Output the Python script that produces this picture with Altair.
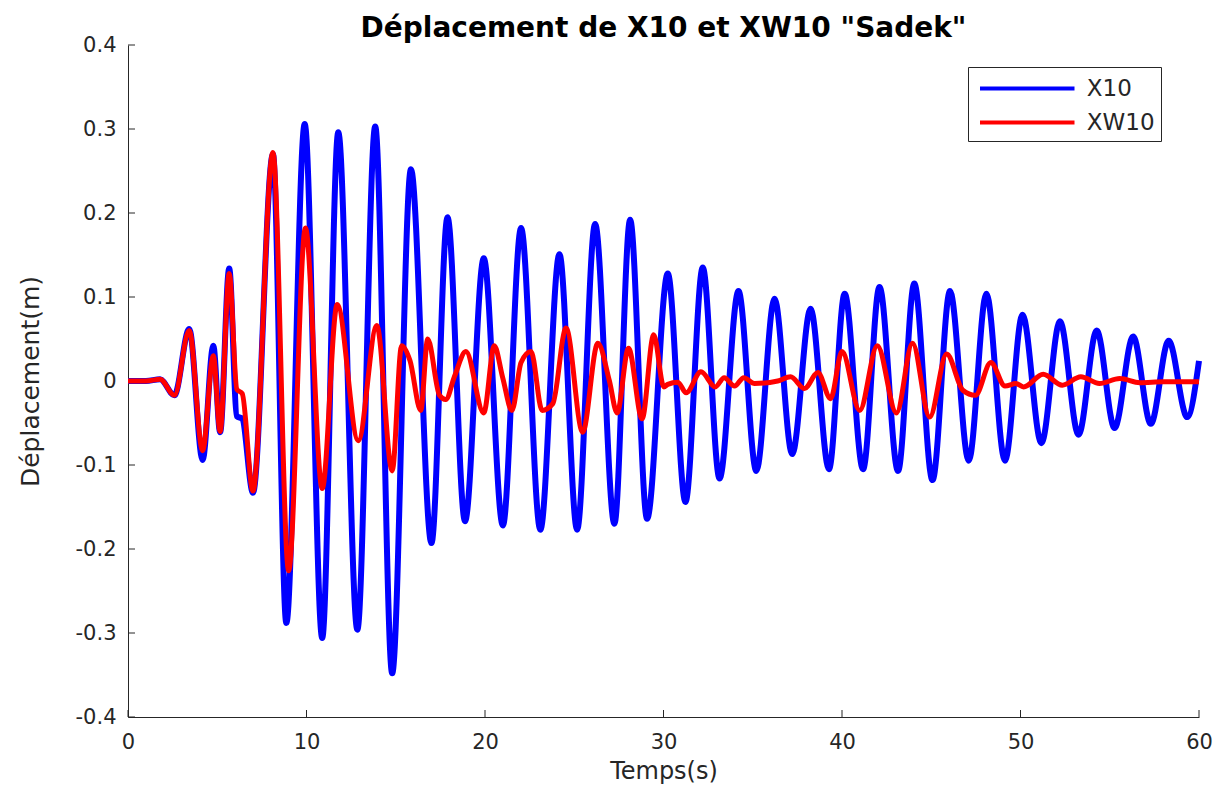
import altair as alt
import pandas as pd

# ---- data (extrema of each curve) ----
t_x10 = [0, 1.0, 1.8, 2.6, 3.43, 4.18, 4.78, 5.16, 5.67, 6.1,
         6.4, 7.0, 8.12, 8.87, 9.9, 10.88, 11.78, 12.85, 13.85, 14.8,
         15.85, 17.0, 17.9, 18.88, 19.93, 21.0, 22.02, 23.1, 24.17, 25.16,
         26.17, 27.25, 28.13, 29.08, 30.24, 31.23, 32.2, 33.14, 34.2, 35.2,
         36.22, 37.21, 38.24, 39.27, 40.15, 41.18, 42.1, 43.14, 44.05, 45.07,
         46.05, 47.1, 48.09, 49.13, 50.11, 51.17, 52.21, 53.25, 54.27, 55.27,
         56.31, 57.3, 58.3, 59.34, 60.0]
y_x10 = [0, 0, 0.002, -0.017, 0.062, -0.094, 0.042, -0.061, 0.134, -0.042,
         -0.045, -0.133, 0.27, -0.288, 0.306, -0.306, 0.296, -0.296, 0.303, -0.348,
         0.252, -0.193, 0.195, -0.167, 0.146, -0.172, 0.182, -0.177, 0.151, -0.177,
         0.187, -0.17, 0.192, -0.164, 0.128, -0.144, 0.135, -0.116, 0.107, -0.107,
         0.098, -0.087, 0.086, -0.105, 0.104, -0.105, 0.112, -0.107, 0.116, -0.118,
         0.107, -0.095, 0.104, -0.095, 0.079, -0.074, 0.071, -0.064, 0.06, -0.056,
         0.053, -0.051, 0.048, -0.043, 0.024]

t_xw10 = [0, 1.0, 1.8, 2.6, 3.43, 4.18, 4.78, 5.16, 5.67, 6.1,
          6.4, 7.0, 8.12, 9.0, 9.94, 10.88, 11.72, 12.9, 13.94, 14.8,
          15.33, 15.8, 16.4, 16.79, 17.45, 17.8, 18.3, 18.93, 19.93, 20.52,
          20.99, 21.51, 22.02, 22.58, 23.2, 23.8, 24.54, 25.47, 26.32, 26.97,
          27.4, 28.04, 28.8, 29.45, 30.02, 30.24, 30.8, 31.27, 32.1, 32.9,
          33.4, 33.98, 34.5, 35.1, 36.4, 37.12, 37.9, 38.65, 39.36, 40.0,
          40.99, 41.98, 43.05, 43.95, 44.91, 45.86, 46.77, 47.47, 48.34, 49.13,
          49.74, 50.17, 51.27, 52.34, 53.38, 54.42, 55.56, 56.69, 58.0, 60.0]
y_xw10 = [0, 0, 0.002, -0.017, 0.06, -0.083, 0.03, -0.06, 0.128, -0.01,
          -0.015, -0.131, 0.272, -0.226, 0.182, -0.128, 0.091, -0.071, 0.066, -0.107,
          0.042, 0.024, -0.035, 0.05, -0.017, -0.022, 0.006, 0.035, -0.038, 0.042,
          0.004, -0.035, 0.022, 0.035, -0.035, -0.027, 0.063, -0.061, 0.045, 0.0,
          -0.038, 0.039, -0.045, 0.055, -0.007, -0.004, -0.0015, -0.014, 0.011, -0.007,
          0.004, -0.006, 0.004, -0.003, 0.0, 0.005, -0.009, 0.01, -0.021, 0.035,
          -0.035, 0.042, -0.038, 0.045, -0.043, 0.032, -0.011, -0.017, 0.022, -0.006,
          -0.003, -0.007, 0.008, -0.005, 0.005, -0.003, 0.003, -0.002, -0.001, -0.001]

x_ticks = [0, 10, 20, 30, 40, 50, 60]
y_ticks = [-0.4, -0.3, -0.2, -0.1, 0, 0.1, 0.2, 0.3, 0.4]
series_names = ["X10", "XW10"]
series_colors = ["#0000FF", "#FF0000"]

W, H = 1071, 672
FONT = "DejaVu Sans"
AX = "#262626"

df1 = pd.DataFrame({"t": t_x10, "v": y_x10, "serie": series_names[0]})
df2 = pd.DataFrame({"t": t_xw10, "v": y_xw10, "serie": series_names[1]})

x_scale = alt.Scale(domain=[0, 60], nice=False, zero=False)
y_scale = alt.Scale(domain=[-0.4, 0.4], nice=False, zero=False)

x_axis = alt.Axis(values=x_ticks, title="Temps(s)", grid=False, ticks=False, tickSize=0,
                  labelPadding=14, labelFontSize=21, titleFontSize=24, titlePadding=7,
                  labelFlush=False, domainColor=AX, labelColor=AX, titleColor=AX,
                  labelFont=FONT, titleFont=FONT, titleFontWeight="normal", format="d")
y_axis = alt.Axis(values=y_ticks, title="Déplacement(m)", grid=False, ticks=False, tickSize=0,
                  labelPadding=12, labelFontSize=21, titleFontSize=25, titlePadding=32,
                  labelFlush=False, domainColor=AX, labelColor=AX, titleColor=AX,
                  labelFont=FONT, titleFont=FONT, titleFontWeight="normal",
                  labelExpr="datum.value == 0 ? '0' : (datum.value < 0 ? '-' + format(-datum.value, '.1f') : format(datum.value, '.1f'))")

color = alt.Color("serie:N",
                  scale=alt.Scale(domain=series_names, range=series_colors),
                  legend=alt.Legend(title=None, orient="none", legendX=840, legendY=22,
                                    symbolType="M-3.5,0H3.5", symbolSize=729,
                                    symbolStrokeWidth=4, symbolOffset=37.75, labelOffset=44,
                                    labelFontSize=23, labelFont=FONT, labelColor=AX,
                                    padding=6, rowPadding=6, strokeColor=AX,
                                    fillColor="white", direction="vertical"))

x_enc = alt.X("t:Q", scale=x_scale, axis=x_axis)
y_enc = alt.Y("v:Q", scale=y_scale, axis=y_axis)

blue = alt.Chart(df1).mark_line(strokeWidth=6, interpolate="monotone").encode(
    x=x_enc, y=y_enc, color=color)
red = alt.Chart(df2).mark_line(strokeWidth=5, interpolate="monotone").encode(
    x=x_enc, y=y_enc, color=color)

bottom_ticks = alt.Chart(pd.DataFrame({"t": x_ticks})).mark_rule(color=AX, strokeWidth=1).encode(
    x=x_enc, y=alt.value(H), y2=alt.value(H - 7))
left_ticks = alt.Chart(pd.DataFrame({"v": y_ticks})).mark_rule(color=AX, strokeWidth=1).encode(
    y=y_enc, x=alt.value(0), x2=alt.value(7))

chart = alt.layer(bottom_ticks, left_ticks, blue, red).properties(
    width=W, height=H,
    title=alt.TitleParams('Déplacement de X10 et XW10 "Sadek"', fontSize=28, font=FONT,
                          fontWeight="bold", color="black", anchor="middle", offset=8, dy=17),
    padding={"left": 120, "top": 37, "right": 21, "bottom": 72},
    autosize=alt.AutoSizeParams(type="none"),
).configure_view(stroke="transparent")

chart.save("out.html", embed_options={"renderer": "svg", "actions": False})
